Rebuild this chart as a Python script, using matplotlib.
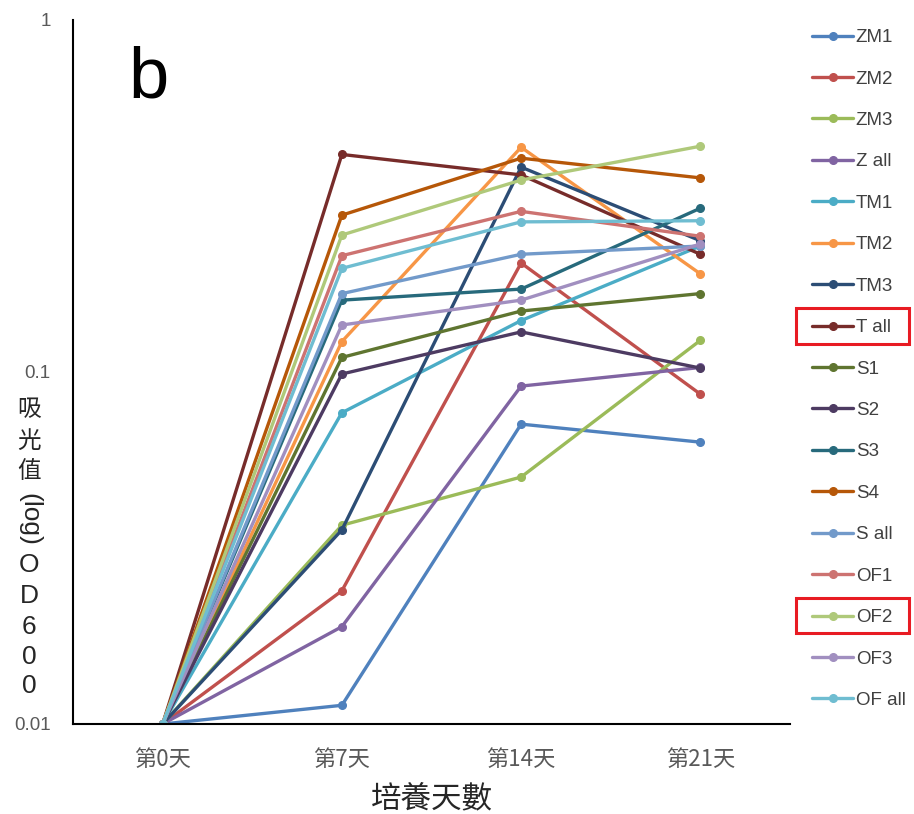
import matplotlib
matplotlib.use("Agg")
import matplotlib.pyplot as plt
from matplotlib.patches import Rectangle

days = ["第0天", "第7天", "第14天", "第21天"]

series_names = ["ZM1", "ZM2", "ZM3", "Z all", "TM1", "TM2", "TM3", "T all",
                "S1", "S2", "S3", "S4", "S all", "OF1", "OF2", "OF3", "OF all"]

ZM1 = [0.01, 0.0113, 0.0711, 0.0632]
ZM2 = [0.01, 0.0239, 0.204, 0.0865]
ZM3 = [0.01, 0.0367, 0.0503, 0.123]
Z_all = [0.01, 0.0189, 0.0912, 0.103]
TM1 = [0.01, 0.0766, 0.140, 0.228]
TM2 = [0.01, 0.122, 0.435, 0.190]
TM3 = [0.01, 0.0356, 0.382, 0.236]
T_all = [0.01, 0.415, 0.363, 0.216]
S1 = [0.01, 0.110, 0.149, 0.167]
S2 = [0.01, 0.0987, 0.130, 0.1026]
S3 = [0.01, 0.160, 0.172, 0.292]
S4 = [0.01, 0.279, 0.405, 0.356]
S_all = [0.01, 0.167, 0.216, 0.228]
OF1 = [0.01, 0.214, 0.286, 0.243]
OF2 = [0.01, 0.245, 0.351, 0.438]
OF3 = [0.01, 0.136, 0.160, 0.231]
OF_all = [0.01, 0.197, 0.267, 0.269]

values = [ZM1, ZM2, ZM3, Z_all, TM1, TM2, TM3, T_all,
          S1, S2, S3, S4, S_all, OF1, OF2, OF3, OF_all]

colors = ["#4F81BD", "#C0504D", "#9BBB59", "#8064A2", "#4BACC6", "#F79646",
          "#2C4D75", "#772C2A", "#5F7530", "#4D3B62", "#276A7C", "#B65708",
          "#729ACA", "#CD7371", "#AFC97A", "#A18FC0", "#6FBDD1"]

yticks = [0.01, 0.1, 1]
ytick_labels = ["0.01", "0.1", "1"]

CJK = ["Noto Sans CJK TC", "DejaVu Sans"]
plt.rcParams["font.family"] = CJK

fig = plt.figure(figsize=(9.14, 8.14), dpi=100)
ax = fig.add_axes([73 / 914, 1 - 724 / 814, (790 - 73) / 914, (724 - 20) / 814])

x = list(range(len(days)))
for name, vals, c in zip(series_names, values, colors):
    ax.plot(x, vals, color=c, lw=2.4, marker="o", markersize=5.5,
            label=name, solid_capstyle="round")

ax.set_yscale("log")
ax.set_ylim(0.01, 1)
ax.set_xlim(-0.5, 3.5)
ax.set_yticks(yticks)
ax.set_yticklabels(ytick_labels, fontsize=13.5, color="#595959",
                   family=["Liberation Sans"])
ax.minorticks_off()
ax.set_xticks(x)
ax.set_xticklabels(days, fontsize=16, color="#595959")
ax.tick_params(axis="both", length=0)
ax.tick_params(axis="y", pad=16)
ax.tick_params(axis="x", pad=17)
for s in ["top", "right"]:
    ax.spines[s].set_visible(False)
for s in ["left", "bottom"]:
    ax.spines[s].set_color("black")
    ax.spines[s].set_linewidth(1.5)

ax.set_xlabel("培養天數", fontsize=22, color="#262626", labelpad=9)

# big panel letter
fig.text(128 / 914, 1 - 98 / 814, "b", fontsize=52, color="black",
         family=["Liberation Sans"], ha="left", va="baseline")

# stacked vertical y label
ylab_x = 29 / 914
for ch, yy in [("吸", 410), ("光", 441), ("值", 472)]:
    fig.text(ylab_x, 1 - yy / 814, ch, fontsize=17, color="#262626",
             ha="center", va="center")
fig.text(ylab_x, 1 - 519 / 814, "(log)", fontsize=19, color="#262626",
         ha="center", va="center", rotation=-90, family=["Liberation Sans"])
for ch, yy in [("O", 565), ("D", 596), ("6", 627), ("0", 657), ("0", 686)]:
    fig.text(ylab_x, 1 - yy / 814, ch, fontsize=19, color="#262626",
             ha="center", va="center", family=["Liberation Sans"])

leg = ax.legend(loc="upper left", bbox_to_anchor=(812 / 914, 1 - 29 / 814),
                bbox_transform=fig.transFigure, frameon=False,
                labelspacing=1.296, handlelength=2.19,
                handletextpad=0.15, borderpad=0, borderaxespad=0,
                prop={"family": ["Liberation Sans"], "size": 13.5})
for t in leg.get_texts():
    t.set_color("#404040")

# red highlight boxes
for (x0, y0, x1, y1) in [(796, 308, 909, 344), (796, 598, 909, 633)]:
    fig.patches.append(Rectangle((x0 / 914, 1 - y1 / 814), (x1 - x0) / 914,
                                 (y1 - y0) / 814, transform=fig.transFigure,
                                 fill=False, edgecolor="#E81B23", lw=2.2))

fig.savefig("out.png", dpi=100)
